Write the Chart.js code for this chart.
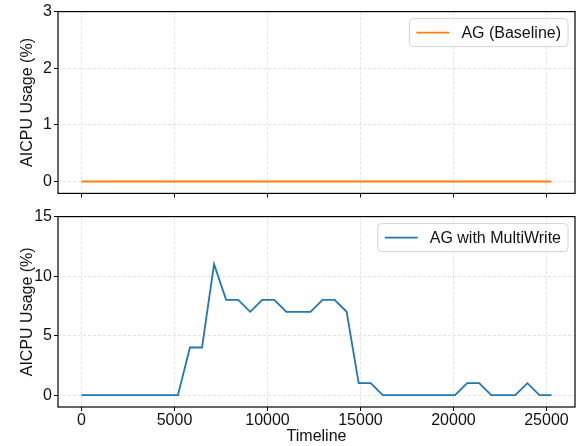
<!DOCTYPE html>
<html>
<head>
<meta charset="utf-8">
<script src="https://cdn.jsdelivr.net/npm/chart.js@4.4.1/dist/chart.umd.min.js"></script>
<style>
  html, body { margin: 0; padding: 0; background: #fff; }
  #wrap { position: relative; width: 581px; height: 446px; }
  canvas { position: absolute; left: 0; }
  #top { top: 0; }
  #bottom { top: 205px; }
</style>
</head>
<body>
<div id="wrap">
  <canvas id="top" width="581" height="205"></canvas>
  <canvas id="bottom" width="581" height="241"></canvas>
</div>
<script>
// data
var timeline = [0, 648, 1296, 1944, 2592, 3240, 3888, 4536, 5184, 5832,
  6480, 7128, 7776, 8424, 9072, 9720, 10368, 11016, 11664, 12312,
  12960, 13608, 14256, 14904, 15552, 16200, 16848, 17496, 18144, 18792,
  19440, 20088, 20736, 21384, 22032, 22680, 23328, 23976, 24624, 25272];

var baseline = [0, 0, 0, 0, 0, 0, 0, 0, 0, 0,
  0, 0, 0, 0, 0, 0, 0, 0, 0, 0,
  0, 0, 0, 0, 0, 0, 0, 0, 0, 0,
  0, 0, 0, 0, 0, 0, 0, 0, 0, 0];

var multiWrite = [0, 0, 0, 0, 0, 0, 0, 0, 0, 4,
  4, 11, 8, 8, 7, 8, 8, 7, 7, 7,
  8, 8, 7, 1, 1, 0, 0, 0, 0, 0,
  0, 0, 1, 1, 0, 0, 0, 1, 0, 0];

var xTicks = [0, 5000, 10000, 15000, 20000, 25000];
var yTicksTop = [0, 1, 2, 3];
var yTicksBottom = [0, 5, 10, 15];

var FONT = '"Liberation Sans", Arial, sans-serif';
Chart.defaults.font.family = FONT;
Chart.defaults.font.size = 16;
Chart.defaults.color = '#111';

function points(xs, ys) {
  var out = [];
  for (var i in xs) out.push({x: xs[i], y: ys[i]});
  return out;
}

function fixTicks(vals) {
  return function(scale) {
    scale.ticks = vals.map(function(v){ return {value: v}; });
  };
}

// full black frame around the plot area
var frame = {
  id: 'frame',
  afterDraw: function(chart) {
    var a = chart.chartArea, ctx = chart.ctx;
    ctx.save();
    ctx.strokeStyle = '#000';
    ctx.lineWidth = 1.2;
    ctx.strokeRect(a.left, a.top, a.right - a.left, a.bottom - a.top);
    ctx.restore();
  }
};

// matplotlib-like legend box in the upper right
var boxLegend = {
  id: 'boxLegend',
  afterDraw: function(chart) {
    var ds = chart.data.datasets[0];
    var ctx = chart.ctx, a = chart.chartArea;
    ctx.save();
    ctx.font = '16px ' + FONT;
    var tw = ctx.measureText(ds.label).width;
    var w = 7 + 33 + 12 + tw + 7, h = 28;
    var x = a.right - 7 - w, y = a.top + 7;
    ctx.beginPath();
    ctx.roundRect(x, y, w, h, 4);
    ctx.fillStyle = 'rgba(255,255,255,0.8)';
    ctx.fill();
    ctx.strokeStyle = '#d4d4d4';
    ctx.lineWidth = 1;
    ctx.stroke();
    ctx.beginPath();
    ctx.moveTo(x + 7, y + h / 2);
    ctx.lineTo(x + 40, y + h / 2);
    ctx.strokeStyle = ds.borderColor;
    ctx.lineWidth = ds.borderWidth;
    ctx.stroke();
    ctx.fillStyle = '#111';
    ctx.textBaseline = 'middle';
    ctx.textAlign = 'left';
    ctx.fillText(ds.label, x + 52, y + h / 2 + 1);
    ctx.restore();
  }
};

var gridStyle = {
  color: 'rgba(176,176,176,0.45)',
  lineWidth: 0.8,
  tickLength: 4,
  tickColor: '#000',
  tickWidth: 1
};

function xAxis(showLabels, axisHeight) {
  return {
    type: 'linear',
    min: -1264,
    max: 26536,
    afterBuildTicks: fixTicks(xTicks),
    afterFit: function(s){ s.height = axisHeight; },
    grid: gridStyle,
    border: { display: false, dash: [3, 2] },
    ticks: {
      display: showLabels, padding: 0, maxRotation: 0,
      callback: function(v){ return String(v); }
    },
    title: { display: showLabels, text: 'Timeline', padding: { top: 0, bottom: 0 } }
  };
}

function yAxis(min, max, vals) {
  return {
    min: min,
    max: max,
    afterBuildTicks: fixTicks(vals),
    afterFit: function(s){ s.width = 58; },
    grid: gridStyle,
    border: { display: false, dash: [3, 2] },
    ticks: { padding: 2 },
    title: { display: true, text: 'AICPU Usage (%)', padding: { top: 18, bottom: 0 } }
  };
}

function makeChart(id, label, color, ys, yMin, yMax, yVals, showX, axisH, padTop) {
  return new Chart(document.getElementById(id), {
    type: 'line',
    data: {
      datasets: [{
        label: label,
        data: points(timeline, ys),
        borderColor: color,
        backgroundColor: color,
        borderWidth: 1.8,
        pointRadius: 0,
        tension: 0,
        fill: false
      }]
    },
    options: {
      responsive: false,
      animation: false,
      layout: { padding: { top: padTop, right: 6, left: 0, bottom: 0 } },
      plugins: { legend: { display: false }, tooltip: { enabled: false } },
      scales: {
        x: xAxis(showX, axisH),
        y: yAxis(yMin, yMax, yVals)
      }
    },
    plugins: [frame, boxLegend]
  });
}

makeChart('top', 'AG (Baseline)', '#ff7f0e', baseline, -0.21, 3, yTicksTop, false, 6, 9);
makeChart('bottom', 'AG with MultiWrite', '#1f77b4', multiWrite, -1, 15, yTicksBottom, true, 39, 11);
</script>
</body>
</html>
